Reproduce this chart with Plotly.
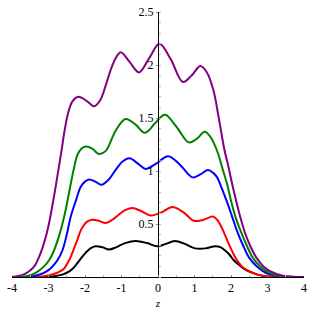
import plotly.graph_objects as go

# Data
black_x = [-4, -3.4, -3.0, -2.8, -2.6, -2.44, -2.32, -2.21, -2.1, -1.98, -1.85, -1.71, -1.52, -1.34, -1.15, -0.9, -0.61, -0.3, -0.02, 0.2, 0.46, 0.75, 1.02, 1.3, 1.57, 1.72, 1.84, 1.96, 2.07, 2.2, 2.34, 2.5, 2.71, 2.9, 3.1, 3.5, 4]
black_y = [0, 0, 0.003, 0.01, 0.025, 0.05, 0.085, 0.13, 0.18, 0.23, 0.27, 0.29, 0.28, 0.26, 0.28, 0.32, 0.34, 0.32, 0.29, 0.31, 0.34, 0.31, 0.27, 0.27, 0.29, 0.28, 0.25, 0.21, 0.16, 0.12, 0.08, 0.05, 0.025, 0.01, 0.003, 0, 0]

red_x = [-4, -3.5, -3.2, -3.0, -2.8, -2.65, -2.57, -2.48, -2.39, -2.3, -2.21, -2.14, -2.07, -1.95, -1.80, -1.62, -1.43, -1.25, -1.07, -0.90, -0.70, -0.45, -0.20, 0.1, 0.39, 0.7, 0.98, 1.25, 1.50, 1.62, 1.71, 1.82, 1.93, 2.05, 2.16, 2.33, 2.53, 2.75, 3.07, 3.5, 4]
red_y = [0, 0, 0.005, 0.015, 0.035, 0.06, 0.08, 0.13, 0.19, 0.27, 0.35, 0.42, 0.47, 0.52, 0.54, 0.53, 0.51, 0.54, 0.59, 0.63, 0.65, 0.62, 0.58, 0.61, 0.66, 0.61, 0.53, 0.54, 0.57, 0.54, 0.49, 0.41, 0.32, 0.23, 0.16, 0.09, 0.05, 0.02, 0.005, 0, 0]

blue_x = [-4, -3.6, -3.39, -3.15, -3.0, -2.89, -2.75, -2.62, -2.5, -2.39, -2.25, -2.12, -2.0, -1.89, -1.72, -1.55, -1.35, -1.16, -0.97, -0.78, -0.55, -0.34, -0.05, 0.28, 0.6, 0.95, 1.17, 1.37, 1.52, 1.62, 1.71, 1.80, 1.92, 2.03, 2.18, 2.34, 2.5, 2.71, 2.95, 3.26, 3.6, 4]
blue_y = [0, 0.003, 0.01, 0.035, 0.065, 0.10, 0.16, 0.25, 0.40, 0.57, 0.72, 0.85, 0.90, 0.92, 0.90, 0.87, 0.92, 1.01, 1.09, 1.12, 1.07, 1.02, 1.07, 1.14, 1.06, 0.94, 0.97, 1.01, 0.98, 0.94, 0.87, 0.79, 0.68, 0.57, 0.42, 0.29, 0.18, 0.10, 0.04, 0.01, 0.002, 0]

green_x = [-4, -3.57, -3.35, -3.12, -2.98, -2.85, -2.7, -2.57, -2.48, -2.39, -2.3, -2.21, -2.1, -1.98, -1.8, -1.62, -1.43, -1.16, -0.89, -0.62, -0.36, -0.08, 0.19, 0.5, 0.84, 1.05, 1.28, 1.42, 1.52, 1.64, 1.76, 1.89, 2.0, 2.12, 2.28, 2.44, 2.6, 2.80, 3.05, 3.35, 4]
green_y = [0, 0.01, 0.04, 0.10, 0.16, 0.25, 0.40, 0.57, 0.72, 0.88, 1.03, 1.15, 1.21, 1.23, 1.21, 1.16, 1.19, 1.38, 1.49, 1.44, 1.36, 1.45, 1.53, 1.42, 1.27, 1.30, 1.37, 1.33, 1.27, 1.17, 1.03, 0.88, 0.72, 0.57, 0.42, 0.29, 0.18, 0.10, 0.04, 0.01, 0]

purple_x = [-4, -3.71, -3.55, -3.39, -3.27, -3.16, -3.05, -2.96, -2.88, -2.80, -2.72, -2.64, -2.56, -2.46, -2.34, -2.18, -1.95, -1.75, -1.58, -1.43, -1.30, -1.15, -1.02, -0.78, -0.52, -0.25, 0.04, 0.34, 0.68, 0.92, 1.16, 1.34, 1.52, 1.66, 1.82, 1.93, 2.03, 2.14, 2.25, 2.38, 2.53, 2.70, 2.89, 3.1, 3.44, 4]
purple_y = [0, 0.02, 0.05, 0.10, 0.18, 0.28, 0.41, 0.55, 0.70, 0.86, 1.03, 1.20, 1.38, 1.55, 1.66, 1.70, 1.66, 1.61, 1.67, 1.81, 1.95, 2.07, 2.12, 2.03, 1.93, 2.06, 2.20, 2.06, 1.84, 1.90, 1.99, 1.93, 1.76, 1.51, 1.20, 1.04, 0.88, 0.72, 0.57, 0.42, 0.29, 0.18, 0.10, 0.05, 0.01, 0]

x_ticks = [-4, -3, -2, -1, 0, 1, 2, 3, 4]
y_ticks = [0.5, 1, 1.5, 2, 2.5]
y_tick_text = ["0.5", "1", "1.5", "2", "2.5"]

series = [
    (black_x, black_y, "#000000"),
    (red_x, red_y, "#ff0000"),
    (blue_x, blue_y, "#0000ff"),
    (green_x, green_y, "#008000"),
    (purple_x, purple_y, "#800080"),
]

fig = go.Figure()
for xs, ys, col in series:
    fig.add_trace(go.Scatter(x=xs, y=ys, mode="lines",
                             line=dict(color=col, width=2, shape="spline", smoothing=1.0),
                             showlegend=False, hoverinfo="skip"))

font = dict(family="Liberation Serif, Times New Roman, serif", size=12, color="#000000")

fig.update_layout(
    width=312, height=312,
    margin=dict(l=12, r=8, t=12, b=35),
    paper_bgcolor="white", plot_bgcolor="white",
    font=font,
    xaxis=dict(range=[-4, 4], tickvals=x_ticks, ticktext=[str(v) for v in x_ticks],
               automargin=False,
               showgrid=False, zeroline=False, showline=True, linecolor="#000000", linewidth=1,
               ticks="inside", ticklen=2, tickcolor="#888888",
               minor=dict(dtick=0.5, ticks="inside", ticklen=2, tickcolor="#bbbbbb"),
               title=dict(text="<i>z</i>", font=dict(size=11), standoff=4),
               fixedrange=True),
    yaxis=dict(range=[0, 2.5], tickvals=y_ticks, ticktext=y_tick_text,
               anchor="free", position=0.5, side="left", automargin=False,
               showgrid=False, zeroline=False, showline=True, linecolor="#000000", linewidth=1,
               ticks="outside", ticklen=2, tickcolor="#888888",
               minor=dict(dtick=0.1, ticks="inside", ticklen=2, tickcolor="#bbbbbb"),
               fixedrange=True),
)

fig.write_html("out.html", config={"displayModeBar": False},
               post_script="document.body.style.margin='0';document.body.style.overflow='hidden';")
